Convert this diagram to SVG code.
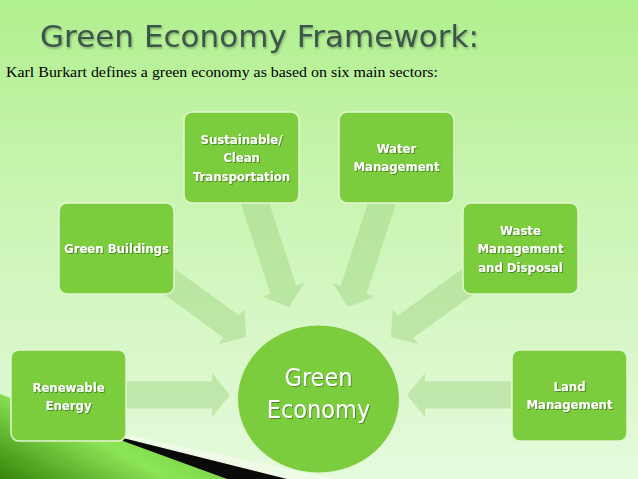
<svg xmlns="http://www.w3.org/2000/svg" width="638" height="479" viewBox="0 0 638 479">
  <defs>
    <linearGradient id="bg" x1="0" y1="0" x2="0" y2="1">
      <stop offset="0" stop-color="#b1f08e"/>
      <stop offset="0.45" stop-color="#cbf5b5"/>
      <stop offset="1" stop-color="#e6fadd"/>
    </linearGradient>
    <linearGradient id="swoosh" x1="0" y1="1" x2="1" y2="0.3">
      <stop offset="0" stop-color="#358508"/>
      <stop offset="0.5" stop-color="#8ce457"/>
      <stop offset="1" stop-color="#6cc236"/>
    </linearGradient>
    <filter id="ts" x="-10%" y="-30%" width="130%" height="170%">
      <feDropShadow dx="1" dy="1" stdDeviation="0.6" flood-color="#2f5a18" flood-opacity="0.6"/>
    </filter>
    <filter id="tts" x="-5%" y="-30%" width="115%" height="170%">
      <feDropShadow dx="1" dy="1.5" stdDeviation="1" flood-color="#000" flood-opacity="0.3"/>
    </filter>
  </defs>
  <style>
    .box { fill: #7ccd3e; stroke: #e2f6d2; stroke-width: 1.5; }
    .lbl { font-family: "DejaVu Sans Condensed", "DejaVu Sans", sans-serif; font-stretch: condensed; font-weight: bold; font-size: 13px; fill: #ffffff; text-anchor: middle; filter: url(#ts); }
    .arrow { fill: #a2d585; fill-opacity: 0.5; }
    .big { font-family: "DejaVu Sans Condensed", "DejaVu Sans", sans-serif; font-stretch: condensed; font-size: 25px; fill: #ffffff; text-anchor: middle; filter: url(#ts); }
  </style>

  <rect x="0" y="0" width="638" height="479" fill="url(#bg)"/>

  <!-- bottom-left decoration -->
  <path d="M0,394 L227,479 L0,479 Z" fill="url(#swoosh)"/>
  <path d="M123,434 L335,479 L287,479 L123,438 Z" fill="#eefbe6"/>
  <path d="M123,438 L287,479 L227,479 L123,441 Z" fill="#0a0a0a"/>

  <text x="40" y="47" font-family="DejaVu Sans, sans-serif" font-size="31" fill="#3d574b" filter="url(#tts)" textLength="439" lengthAdjust="spacingAndGlyphs">Green Economy Framework:</text>
  <text x="6" y="77" font-family="Liberation Serif, serif" font-size="15.5" fill="#000000" textLength="432" lengthAdjust="spacingAndGlyphs">Karl Burkart defines a green economy as based on six main sectors:</text>

  <g id="connectors">
    <g transform="translate(230,395)"><path class="arrow" d="M-104,-13.5 L-18,-13.5 L-18,-22 L0,0 L-18,22 L-18,13.5 L-104,13.5 Z"/></g>
    <g transform="translate(407,395) rotate(180)"><path class="arrow" d="M-104,-13.5 L-18,-13.5 L-18,-22 L0,0 L-18,22 L-18,13.5 L-104,13.5 Z"/></g>
    <g transform="translate(246,337) rotate(35.8)"><path class="arrow" d="M-108,-13.5 L-18,-13.5 L-18,-22 L0,0 L-18,22 L-18,13.5 L-108,13.5 Z"/></g>
    <g transform="translate(391,337) rotate(144.2)"><path class="arrow" d="M-108,-13.5 L-18,-13.5 L-18,-22 L0,0 L-18,22 L-18,13.5 L-108,13.5 Z"/></g>
    <g transform="translate(289,307) rotate(71.9)"><path class="arrow" d="M-115,-13.5 L-18,-13.5 L-18,-22 L0,0 L-18,22 L-18,13.5 L-115,13.5 Z"/></g>
    <g transform="translate(348,307) rotate(108.1)"><path class="arrow" d="M-115,-13.5 L-18,-13.5 L-18,-22 L0,0 L-18,22 L-18,13.5 L-115,13.5 Z"/></g>
  </g>

  <g id="renewable">
    <rect class="box" x="11" y="350" width="115" height="91" rx="8"/>
    <text class="lbl" x="68.5" y="391.5">Renewable</text>
    <text class="lbl" x="68.5" y="410">Energy</text>
  </g>
  <g id="buildings">
    <rect class="box" x="59" y="203" width="115" height="91" rx="8"/>
    <text class="lbl" x="116.5" y="253">Green Buildings</text>
  </g>
  <g id="transport">
    <rect class="box" x="184" y="112" width="115" height="91" rx="8"/>
    <text class="lbl" x="241.5" y="143.5">Sustainable/</text>
    <text class="lbl" x="241.5" y="162">Clean</text>
    <text class="lbl" x="241.5" y="180.5">Transportation</text>
  </g>
  <g id="water">
    <rect class="box" x="339" y="112" width="115" height="91" rx="8"/>
    <text class="lbl" x="396.5" y="152.5">Water</text>
    <text class="lbl" x="396.5" y="171">Management</text>
  </g>
  <g id="waste">
    <rect class="box" x="463" y="203" width="115" height="91" rx="8"/>
    <text class="lbl" x="520.5" y="234.5">Waste</text>
    <text class="lbl" x="520.5" y="253">Management</text>
    <text class="lbl" x="520.5" y="271.5">and Disposal</text>
  </g>
  <g id="land">
    <rect class="box" x="512" y="350" width="115" height="91" rx="8"/>
    <text class="lbl" x="569.5" y="390.5">Land</text>
    <text class="lbl" x="569.5" y="409">Management</text>
  </g>
  <g id="green-economy">
    <ellipse cx="318.5" cy="399" rx="81" ry="74" fill="#7ccd3e" stroke="#e2f6d2" stroke-width="1"/>
    <text class="big" x="318.5" y="386">Green</text>
    <text class="big" x="318.5" y="418">Economy</text>
  </g>
</svg>
